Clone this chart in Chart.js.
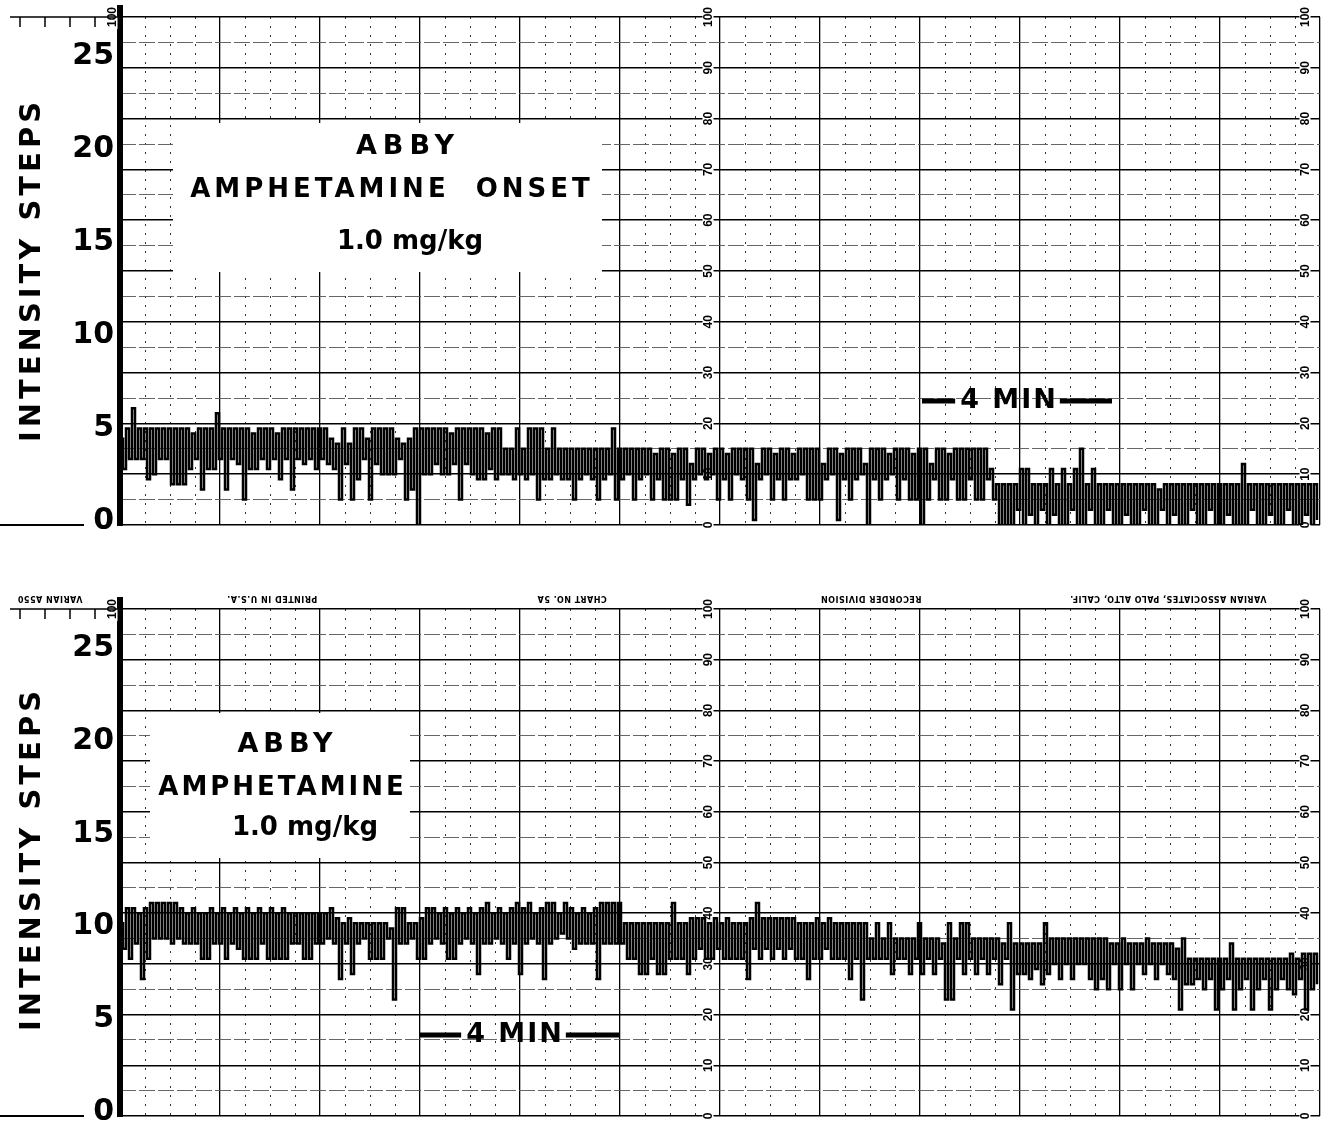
<!DOCTYPE html>
<html><head><meta charset="utf-8">
<script src="https://cdn.jsdelivr.net/npm/chart.js@4.4.1/dist/chart.umd.min.js"></script>
<style>
html,body{margin:0;padding:0;background:#fff;}
#wrap{position:relative;width:1327px;height:1121px;overflow:hidden;background:#fff;}
canvas{position:absolute;left:0;}
#c1{top:0}
#c2{top:561px}
</style></head><body>
<div id="wrap"><canvas id="c1" width="1327" height="560"></canvas><canvas id="c2" width="1327" height="560"></canvas></div>
<script>
// ---- tick labels ----
const INTENSITY_TICKS = [0, 5, 10, 15, 20, 25];      // left "INTENSITY STEPS" labels
const RECORDER_MAX = 100;                           // recorder chart scale 0..100
const TIME_SPAN_MIN = 24;                            // width of the paper, minutes
const SAMPLE_MIN = 0.12;                             // minutes per sample (hi/lo pair)

// ---- top record: "ABBY AMPHETAMINE ONSET 1.0 mg/kg" (recorder units) ----
const TOP_HI = [
 17,19,23,19,19,19,19,19,19,19, 19,19,18,19,19,19,22,19,19,19,
 19,19,18,19,19,19,18,19,19,19, 19,19,19,19,19,17,16,19,16,19,
 19,17,19,19,19,19,17,16,17,19, 19,19,19,19,19,18,19,19,19,19,
 19,18,19,19,15,15,19,15,19,19, 19,15,19,15,15,15,15,15,15,15,
 15,15,19,15,15,15,15,15,15,14, 15,15,14,15,15,12,15,15,14,15,
 15,14,15,15,15,15,12,15,15,14, 15,15,14,15,15,15,15,12,15,15,
 14,15,15,15,12,15,15,15,14,15, 15,15,14,15,15,12,15,15,14,15,
 15,15,15,15,15,11,8,8,8,8,     11,11,8,8,8,11,8,11,8,11,
 15,8,11,8,8,8,8,8,8,8,         8,8,8,7,8,8,8,8,8,8,
 8,8,8,8,8,8,8,12,8,8,          8,8,8,8,8,8,8,8,8,8
];
const TOP_LO = [
 11,13,13,13,9,10,13,13,8,8,    8,11,13,7,11,11,13,7,13,12,
 5,11,11,13,11,13,9,13,7,13,    12,13,11,13,12,11,5,12,5,9,
 13,5,12,10,10,10,13,5,7,0,     10,10,12,10,10,12,5,12,10,9,
 9,11,9,10,10,9,10,9,10,5,      9,9,10,9,9,5,9,10,9,5,
 9,10,5,9,10,5,9,10,5,9,        5,5,5,9,4,9,10,9,10,5,
 9,5,10,9,5,1,9,10,5,9,         5,9,9,10,5,5,5,9,10,1,
 9,5,9,10,0,9,5,9,10,5,         9,5,5,0,5,9,5,5,9,5,
 5,9,5,5,9,5,0,0,0,3,           0,2,0,3,0,2,0,0,3,0,
 0,3,0,0,3,0,0,2,0,0,           3,0,0,3,0,2,0,0,3,0,
 0,3,0,0,2,0,0,0,3,0,           0,2,0,0,3,0,0,2,0,1
];

// ---- bottom record: "ABBY AMPHETAMINE 1.0 mg/kg" (recorder units) ----
const BOT_HI = [
 38,41,41,40,41,42,42,42,42,42, 41,40,41,40,40,41,40,41,40,41,
 40,41,40,41,40,41,40,41,40,40, 40,40,40,40,40,41,39,38,39,38,
 38,38,38,38,38,37,41,41,38,38, 39,41,41,40,41,40,41,40,41,40,
 41,42,40,41,40,41,42,41,42,40, 41,42,42,40,42,41,40,41,40,41,
 42,42,42,42,38,38,38,38,38,38, 38,38,42,38,38,39,39,39,38,39,
 38,39,38,38,38,39,42,39,39,39, 39,39,39,38,38,38,39,38,39,38,
 38,38,38,38,38,35,38,35,38,35, 35,35,35,38,35,35,35,34,38,35,
 38,38,35,35,35,35,35,34,38,34, 34,34,34,34,38,35,35,35,35,35,
 35,35,35,35,35,34,34,35,34,34, 34,35,34,34,34,34,33,35,31,31,
 31,31,31,31,31,34,31,31,31,31, 31,31,31,31,31,32,31,32,32,32
];
const BOT_LO = [
 33,31,34,27,31,35,35,35,34,35, 34,34,34,31,31,34,34,31,34,33,
 31,31,31,34,31,31,31,31,34,34, 31,31,34,34,35,34,27,34,28,34,
 35,31,31,31,35,23,34,34,35,31, 31,34,35,34,31,31,34,35,34,28,
 34,34,35,34,31,34,28,34,35,34, 27,34,35,36,35,33,34,34,34,27,
 34,34,34,34,31,31,28,28,31,28, 28,31,31,31,28,31,33,31,31,33,
 31,31,31,31,27,33,31,33,31,33, 31,33,31,31,27,31,31,33,31,31,
 31,27,31,23,31,31,31,31,28,31, 31,28,31,28,31,28,31,23,23,31,
 28,31,28,31,28,31,26,31,21,28, 28,27,29,26,28,30,27,30,27,30,
 30,27,25,27,25,30,25,30,25,30, 28,30,27,30,28,27,21,26,26,27,
 25,27,21,25,27,21,25,27,21,25, 27,21,25,27,25,24,27,21,25,26
];

const HEADER_TEXTS = ['VARIAN A550', 'PRINTED IN U.S.A.', 'CHART NO. 5A', 'RECORDER DIVISION', 'VARIAN ASSOCIATES, PALO ALTO, CALIF.'];

function tracePoints(hi, lo) {
  const pts = [];
  for (let i = 0; i < hi.length; i++) {
    pts.push({x: i * SAMPLE_MIN, y: hi[i]});
    pts.push({x: i * SAMPLE_MIN + SAMPLE_MIN / 2, y: lo[i]});
  }
  return pts;
}

function isMult(v, m) { return Math.abs(v / m - Math.round(v / m)) < 1e-6; }

function drawRot(ctx, s, cx, cy) {
  const w = ctx.measureText(s).width;
  ctx.save();
  ctx.translate(cx, cy);
  ctx.rotate(-Math.PI / 2);
  ctx.fillStyle = '#fff';
  ctx.fillRect(-w / 2 - 2, -5.5, w + 4, 11);
  ctx.fillStyle = '#000';
  ctx.fillText(s, 0, 0.5);
  ctx.restore();
}

function decorPlugin(cfg) {
  return {
    id: 'decor',
    beforeDatasetsDraw(chart) {
      const ctx = chart.ctx, a = chart.chartArea, xs = chart.scales.x, ys = chart.scales.y;
      ctx.save();
      // white label box
      ctx.fillStyle = '#fff';
      ctx.fillRect(cfg.box[0], cfg.box[1], cfg.box[2] - cfg.box[0], cfg.box[3] - cfg.box[1]);
      // recorder scale labels (rotated)
      ctx.font = 'bold 12px "Liberation Sans Narrow", "Liberation Sans", sans-serif';
      ctx.textAlign = 'center';
      ctx.textBaseline = 'middle';
      const cols = [xs.getPixelForValue(TIME_SPAN_MIN / 2) - 12, xs.getPixelForValue(TIME_SPAN_MIN) - 15];
      ys.ticks.forEach(t => {
        const y = ys.getPixelForValue(t.value);
        const s = String(t.value);
        cols.forEach(cx => drawRot(ctx, s, cx, y));
        if (t.value === RECORDER_MAX) drawRot(ctx, s, a.left - 8, y);
      });
      ctx.restore();
    },
    afterDraw(chart) {
      const ctx = chart.ctx, a = chart.chartArea, xs = chart.scales.x;
      ctx.save();
      ctx.fillStyle = '#000';
      ctx.strokeStyle = '#000';
      // bar extension above top
      ctx.fillRect(a.left - 3, a.top - 12, 6, 12);
      // top-left paper extension with ticks
      ctx.lineWidth = 1.5;
      ctx.beginPath();
      ctx.moveTo(10, a.top); ctx.lineTo(a.left, a.top);
      for (let k = 1; k <= 4; k++) {
        const px = xs.getPixelForValue(-0.5 * k);
        ctx.moveTo(px, a.top); ctx.lineTo(px, a.top + 10);
      }
      ctx.stroke();
      // bottom-left line to the zero label
      ctx.lineWidth = 2;
      ctx.beginPath();
      ctx.moveTo(0, a.bottom); ctx.lineTo(84, a.bottom);
      ctx.stroke();
      // label box texts
      ctx.textAlign = 'center';
      ctx.textBaseline = 'middle';
      cfg.texts.forEach(t => {
        ctx.font = 'bold ' + t.size + 'px "DejaVu Sans", sans-serif';
        ctx.letterSpacing = t.ls + 'px';
        ctx.fillText(t.t, t.x + t.ls / 2, t.y);
      });
      // y title
      ctx.save();
      ctx.translate(32, cfg.titleY);
      ctx.rotate(-Math.PI / 2);
      ctx.font = 'bold 29px "DejaVu Sans", sans-serif';
      ctx.letterSpacing = '4px';
      ctx.fillText('INTENSITY STEPS', 2, 0);
      ctx.restore();
      // 4 MIN marker
      const m = cfg.marker;
      ctx.font = 'bold 27px "DejaVu Sans", sans-serif';
      ctx.letterSpacing = '2px';
      const w = ctx.measureText('4 MIN').width;
      ctx.fillText('4 MIN', m.cx + 1, m.y);
      ctx.fillRect(m.x0, m.y - 2.5, (m.cx - w / 2 - 4) - m.x0, 5);
      ctx.fillRect(m.cx + w / 2 + 3, m.y - 2.5, m.x1 - (m.cx + w / 2 + 3), 5);
      // upside-down paper header
      if (cfg.header) {
        ctx.letterSpacing = '0.5px';
        ctx.font = 'bold 8px "DejaVu Sans", sans-serif';
        HEADER_TEXTS.forEach((s, i) => {
          ctx.save();
          ctx.translate(cfg.header.xs[i], cfg.header.y);
          ctx.rotate(Math.PI);
          ctx.fillText(s, 0, 0);
          ctx.restore();
        });
      }
      ctx.restore();
    }
  };
}

function makeChart(id, hi, lo, cfg) {
  const zeroFit = s => { s.height = 0; s.paddingLeft = 0; s.paddingRight = 0; };
  const zeroFitV = s => { s.width = 0; s.paddingTop = 0; s.paddingBottom = 0; };
  return new Chart(document.getElementById(id), {
    type: 'line',
    data: {
      datasets: [{
        data: tracePoints(hi, lo),
        xAxisID: 'x', yAxisID: 'y',
        borderColor: '#000', borderWidth: 2.5,
        pointRadius: 0, stepped: true, tension: 0,
        borderJoinStyle: 'miter', borderCapStyle: 'butt'
      }]
    },
    options: {
      responsive: false, animation: false, events: [],
      layout: {padding: {left: 0, right: 7, top: cfg.padTop, bottom: cfg.padBottom}},
      plugins: {legend: {display: false}, tooltip: {enabled: false}, title: {display: false}},
      scales: {
        x: {type: 'linear', position: 'bottom', min: 0, max: TIME_SPAN_MIN,
            ticks: {display: false, stepSize: 2, maxTicksLimit: 1000},
            grid: {color: '#000', lineWidth: 1.3, drawTicks: false},
            border: {display: false, dash: []}, afterFit: zeroFit},
        x2: {type: 'linear', position: 'bottom', min: 0, max: TIME_SPAN_MIN,
            ticks: {display: false, stepSize: 0.5, maxTicksLimit: 1000},
            grid: {color: c => (c.tick && isMult(c.tick.value, 2)) ? 'rgba(0,0,0,0)' : '#333', lineWidth: 1, drawTicks: false},
            border: {display: false, dash: [2, 7]}, afterFit: zeroFit},
        y: {type: 'linear', position: 'right', min: 0, max: RECORDER_MAX,
            ticks: {display: false, stepSize: 10, maxTicksLimit: 1000},
            grid: {color: '#000', lineWidth: 1.6, drawTicks: false},
            border: {display: false, dash: []}, afterFit: zeroFitV},
        y2: {type: 'linear', position: 'right', min: 0, max: RECORDER_MAX,
            ticks: {display: false, stepSize: 5, maxTicksLimit: 1000},
            grid: {color: c => (c.tick && isMult(c.tick.value, 10)) ? 'rgba(0,0,0,0)' : '#555', lineWidth: 0.9, drawTicks: false},
            border: {display: false, dash: [16, 3]}, afterFit: zeroFitV},
        yInt: {type: 'linear', position: 'left', min: -0.2, max: 27.1,
            afterBuildTicks: s => { s.ticks = INTENSITY_TICKS.map(v => ({value: v})); },
            ticks: {color: '#000', autoSkip: false, padding: 6,
                    font: {family: '"DejaVu Sans", sans-serif', weight: 'bold', size: 30},
                    callback: v => String(v)},
            grid: {drawOnChartArea: false, drawTicks: false},
            border: {display: true, color: '#000', width: 6},
            afterFit: s => { s.width = 120; s.paddingTop = 0; s.paddingBottom = 0; }}
      }
    },
    plugins: [decorPlugin(cfg)]
  });
}

makeChart('c1', TOP_HI, TOP_LO, {
  padTop: 17, padBottom: 35,
  box: [173, 123, 602, 272],
  texts: [
    {t: 'ABBY', x: 405, y: 147, size: 27, ls: 6},
    {t: 'AMPHETAMINE  ONSET', x: 390, y: 190, size: 26, ls: 4},
    {t: '1.0 mg/kg', x: 410, y: 242, size: 26, ls: 0}
  ],
  titleY: 272,
  marker: {x0: 922, x1: 1112, cx: 1008, y: 401},
  header: null
});

makeChart('c2', BOT_HI, BOT_LO, {
  padTop: 48, padBottom: 5,
  box: [150, 152, 410, 297],
  texts: [
    {t: 'ABBY', x: 285, y: 184, size: 27, ls: 5},
    {t: 'AMPHETAMINE', x: 281, y: 227, size: 26, ls: 3},
    {t: '1.0 mg/kg', x: 305, y: 267, size: 26, ls: 0}
  ],
  titleY: 300,
  marker: {x0: 420, x1: 620, cx: 514, y: 474},
  header: {y: 37, xs: [50, 272, 572, 871, 1168]}
});
</script>
</body></html>
